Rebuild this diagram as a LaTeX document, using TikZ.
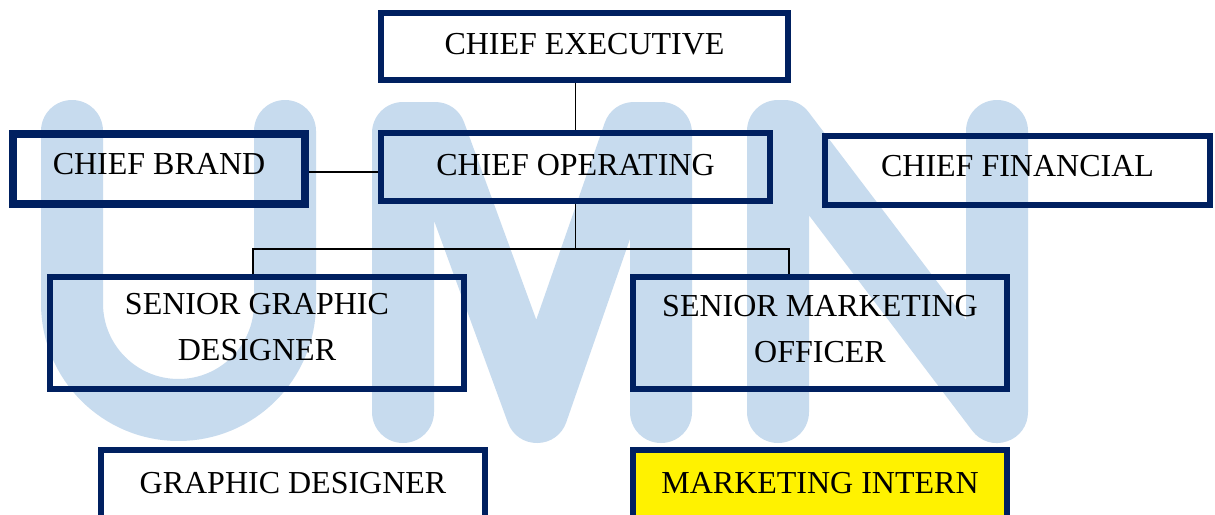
\documentclass[tikz,border=0pt]{standalone}
\usepackage{fontspec}
\setmainfont{Liberation Serif}
\definecolor{navy}{RGB}{0,32,96}
\definecolor{umn}{RGB}{199,219,238}
\newcommand\lift[2]{\raisebox{#1}[\height][\depth]{#2}}
\begin{document}
\begin{tikzpicture}[x=1pt,y=-1pt,
  box/.style={draw=navy, line width=6pt, rectangle, inner sep=0pt, font=\fontsize{32}{46}\selectfont},
  link/.style={draw=black, line width=1.6pt},
  wm/.style={draw=umn, line width=62pt, line cap=round, line join=round}]
\fill[white] (0,0) rectangle (1215,514);
\useasboundingbox (0,0) rectangle (1215,514);
% watermark
\draw[wm] (72,131) -- (72,303.5) arc[start angle=180,end angle=0,radius=106.5] -- (285,131);
\draw[wm] (403,412) -- (403,133) -- (435,133) -- (537,412) -- (634,133) -- (661,133) -- (661,412);
\draw[wm] (778,412) -- (778,131) -- (784,131) -- (997,412) -- (997,131);
% boxes
\node[box, minimum width=407pt, minimum height=67pt] (ce) at (584.5,46.5) {\lift{2.5pt}{CHIEF EXECUTIVE}};
\node[box, minimum width=389pt, minimum height=68pt] (co) at (575.5,167) {\lift{2pt}{CHIEF OPERATING}};
\node[box, line width=8pt, minimum width=292pt, minimum height=70pt] (cb) at (159,169) {\lift{5pt}{CHIEF BRAND}};
\node[box, minimum width=385pt, minimum height=69pt] (cf) at (1017.5,170.5) {\lift{4.5pt}{CHIEF FINANCIAL}};
\node[box, minimum width=414pt, minimum height=112pt] (sgd) at (257,333) {\lift{5pt}{\begin{tabular}{@{}c@{}}SENIOR GRAPHIC\\DESIGNER\end{tabular}}};
\node[box, minimum width=374pt, minimum height=112pt] (smo) at (820,333) {\lift{3pt}{\begin{tabular}{@{}c@{}}SENIOR MARKETING\\OFFICER\end{tabular}}};
\node[box, minimum width=384pt, minimum height=68pt] (gd) at (293,484) {\lift{1pt}{GRAPHIC DESIGNER}};
\node[box, fill=yellow, minimum width=374pt, minimum height=68pt] (mi) at (820,484) {\lift{1pt}{MARKETING INTERN}};
% connectors
\coordinate (busL) at (253,249);
\coordinate (busR) at (789,249);
\draw[link] (ce.south -| co.north) -- (co.north);
\draw[link] ([yshift=-3pt]cb.east) -- ([yshift=-3pt]cb.east -| co.west);
\draw[link] (co.south) -- (co.south |- busL);
\draw[link] (busL |- sgd.north) -- (busL) -- (busR) -- (busR |- smo.north);
\end{tikzpicture}
\end{document}
